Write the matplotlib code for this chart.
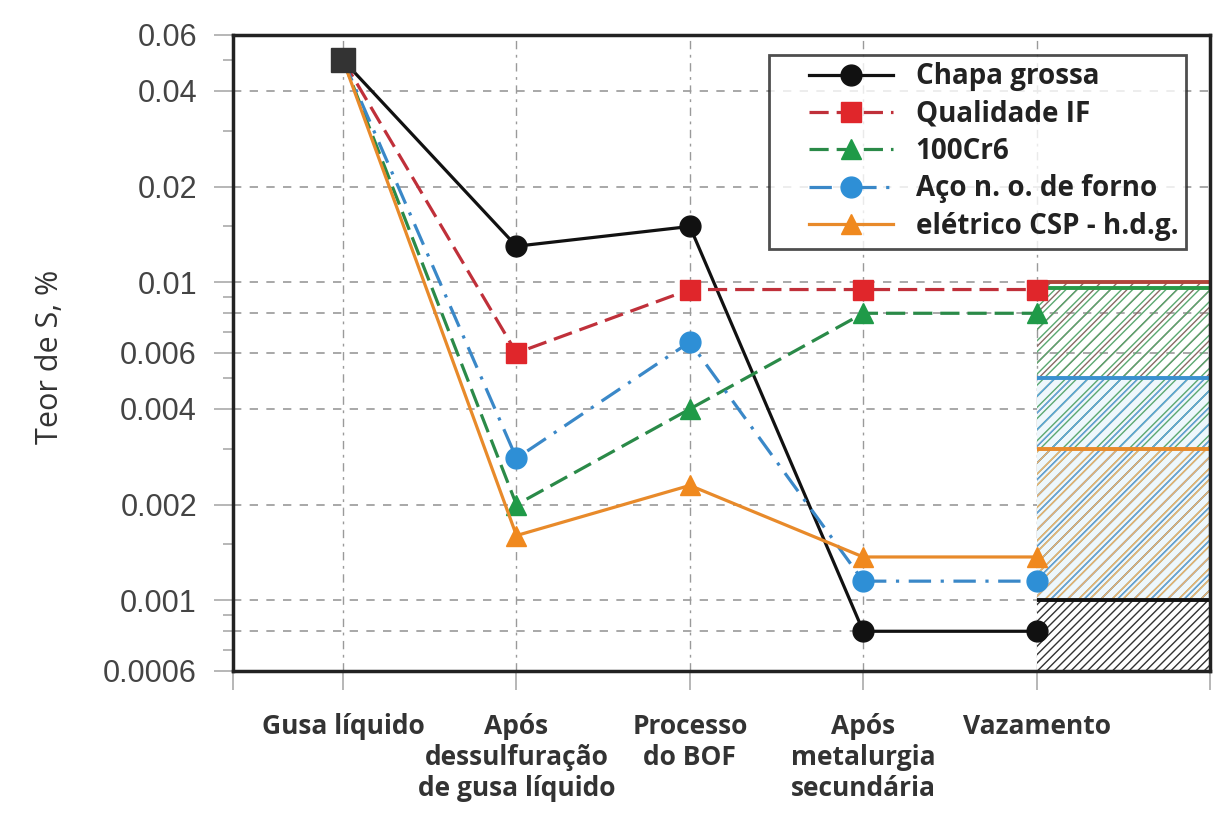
import matplotlib
matplotlib.use('Agg')
import matplotlib.pyplot as plt
from matplotlib.ticker import FixedLocator, NullFormatter
from matplotlib.lines import Line2D
from matplotlib.legend_handler import HandlerLine2D

# etapas do processo
stages = ['Gusa líquido', 'Após\ndessulfuração\nde gusa líquido', 'Processo\ndo BOF',
          'Após\nmetalurgia\nsecundária', 'Vazamento']

# teor de S (%) em cada etapa
chapa_grossa = [0.05, 0.013, 0.015, 0.0008, 0.0008]
qualidade_if = [0.05, 0.006, 0.0095, 0.0095, 0.0095]
cr6 = [0.05, 0.002, 0.004, 0.008, 0.008]
aco_no = [0.05, 0.0028, 0.0065, 0.00115, 0.00115]
csp_hdg = [0.05, 0.0016, 0.0023, 0.00137, 0.00137]

# limites de especificação (faixa hachurada depois do vazamento)
spec_limits = [0.01, 0.0096, 0.005, 0.003, 0.001]
spec_colors = ['#b0453a', '#2a9a48', '#3a90d0', '#e88a2a', '#111111']
spec_hatch_colors = ['#8a6a66', '#5aa870', '#5aa8e0', '#f0b070', '#333333']
spec_hatches = ['//', '///', '//', '///', '////']

labels = ['Chapa grossa', 'Qualidade IF', '100Cr6', 'Aço n. o. de forno', 'elétrico CSP - h.d.g.']
y_ticks = [0.06, 0.04, 0.02, 0.01, 0.006, 0.004, 0.002, 0.001, 0.0006]
y_ticklabels = ['0.06', '0.04', '0.02', '0.01', '0.006', '0.004', '0.002', '0.001', '0.0006']
y_grid = [0.04, 0.02, 0.01, 0.008, 0.006, 0.004, 0.002, 0.001, 0.0008]
y_minor = [0.05, 0.03, 0.015, 0.009, 0.008, 0.007, 0.005, 0.003, 0.0015, 0.0009, 0.0008, 0.0007]

colors = ['#111111', '#e0262b', '#1f9a48', '#2e8fd6', '#f0891e']
line_colors = ['#111111', '#c0303a', '#2a8a48', '#3a88c8', '#e88a2a']
styles = ['-', (0, (6, 2.5)), (0, (6, 2.5)), (0, (7, 3, 1, 3)), '-']
markers = ['o', 's', '^', 'o', '^']

plt.rcParams['hatch.linewidth'] = 1.0

fig = plt.figure(figsize=(12.18, 8.16), dpi=100)
ax = fig.add_axes([233 / 1218, 145 / 816, 977 / 1218, 636 / 816])
ax.set_yscale('log')
ax.set_ylim(0.0006, 0.06)
ax.set_xlim(-0.635, 5.0)

x = list(range(len(stages)))
series = [chapa_grossa, qualidade_if, cr6, aco_no, csp_hdg]

# faixa hachurada
ax.fill_between([4, 5], 0.0006, spec_limits[2], facecolor='#eef7fc', linewidth=0, zorder=0.5)
for lim, c, h in zip(spec_limits, spec_hatch_colors, spec_hatches):
    face = 'white' if lim == spec_limits[-1] else 'none'
    ax.fill_between([4, 5], 0.0006, lim, facecolor=face, edgecolor=c,
                    hatch=h, linewidth=0, zorder=1)
for lim, c in zip(spec_limits, spec_colors):
    ax.hlines(lim, 4, 5, color=c, linewidth=2.8, zorder=2)

for ys, lab, c, lc, ls, m in zip(series, labels, colors, line_colors, styles, markers):
    ax.plot(x, ys, color=lc, linestyle=ls, linewidth=2.3, marker=m, markersize=15,
            markerfacecolor=c, markeredgecolor=c, markevery=[1, 2, 3, 4],
            label=lab, zorder=3)
ax.plot(0, chapa_grossa[0], marker='s', markersize=17, color='#333333', zorder=4)

# grade
for g in y_grid:
    ax.axhline(g, color='#9a9a9a', linestyle=(0, (5, 5)), linewidth=1.2, zorder=0)
for xi in x:
    ax.axvline(xi, color='#9a9a9a', linestyle=(0, (6, 4, 2, 4)), linewidth=1.0, zorder=0)

ax.yaxis.set_major_locator(FixedLocator(y_ticks))
ax.yaxis.set_minor_locator(FixedLocator(y_minor))
ax.yaxis.set_minor_formatter(NullFormatter())
ax.set_yticklabels(y_ticklabels, fontsize=22, family='Liberation Sans', color='#444444')
ax.tick_params(axis='y', which='major', length=14, width=1.2, color='#aaaaaa', pad=12)
ax.tick_params(axis='y', which='minor', length=7, width=1.2, color='#aaaaaa')

ax.set_xticks(x)
ax.set_xticklabels(stages, fontsize=19, family='Open Sans', fontweight='bold',
                   color='#333333', linespacing=1.2, va='top')
ax.xaxis.set_minor_locator(FixedLocator([-0.635, 5.0]))
ax.tick_params(axis='x', which='both', length=14, width=1.2, color='#aaaaaa', pad=16)

ax.set_ylabel('Teor de S, %', fontsize=22, family='Open Sans', color='#333333')
ax.yaxis.set_label_coords(-0.172, 0.494)

for s in ax.spines.values():
    s.set_linewidth(2.5)
    s.set_color('#222222')

leg = ax.legend(loc='upper right', bbox_to_anchor=(0.9755, 0.969),
                prop={'family': 'Open Sans', 'weight': 'bold', 'size': 20},
                frameon=True, fancybox=False, handlelength=4.2, labelspacing=0.3,
                borderpad=0.28, handletextpad=0.8, borderaxespad=0,
                handler_map={Line2D: HandlerLine2D(xpad=1.15)})
leg.get_frame().set_edgecolor('#222222')
leg.get_frame().set_linewidth(2.0)
for t in leg.get_texts():
    t.set_color('#222222')

plt.savefig('out.png', dpi=100)
